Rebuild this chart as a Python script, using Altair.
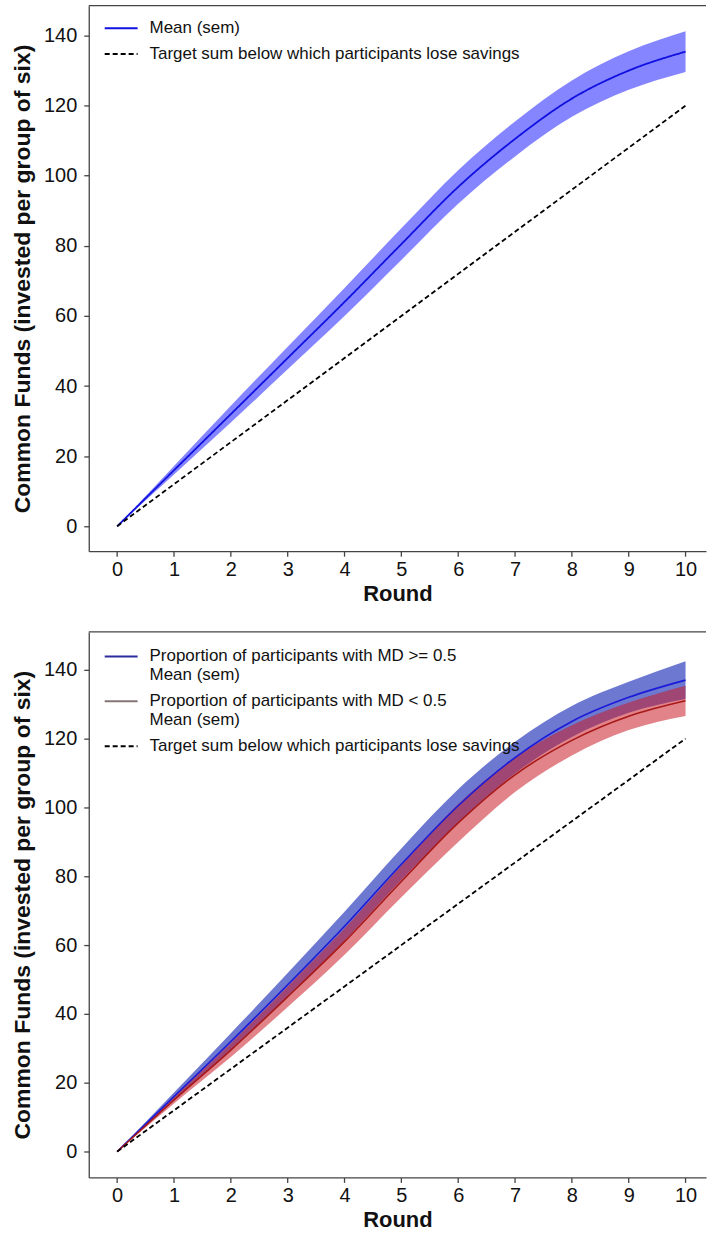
import altair as alt
import pandas as pd

# ---------------- data ----------------
rounds = [0, 1, 2, 3, 4, 5, 6, 7, 8, 9, 10]
target = [0, 12, 24, 36, 48, 60, 72, 84, 96, 108, 120]

# top panel: all participants
top_mean = [0, 16.0, 32.0, 48.0, 64.0, 80.5, 96.8, 110.5, 122.0, 130.0, 135.4]
top_sem = [0, 1.2, 2.4, 3.2, 4.0, 4.5, 4.8, 5.0, 5.2, 5.5, 5.8]

# bottom panel: MD >= 0.5 and MD < 0.5
hi_mean = [0, 16.0, 32.0, 48.5, 65.5, 83.5, 100.5, 114.5, 125.0, 132.0, 137.0]
hi_sem = [0, 1.2, 2.4, 3.4, 4.2, 4.6, 4.8, 4.6, 4.5, 4.5, 5.5]
lo_mean = [0, 15.0, 29.5, 45.0, 61.0, 78.5, 95.5, 109.5, 119.5, 126.5, 131.0]
lo_sem = [0, 1.0, 2.0, 3.0, 3.8, 4.6, 5.5, 5.0, 4.4, 4.0, 4.4]

x_ticks = [0, 1, 2, 3, 4, 5, 6, 7, 8, 9, 10]
y_ticks = [0, 20, 40, 60, 80, 100, 120, 140]

TARGET = "Target sum below which participants lose savings"
MEAN = "Mean (sem)"
HI = "Proportion of participants with MD >= 0.5\nMean (sem)"
LO = "Proportion of participants with MD < 0.5\nMean (sem)"

FONT = "Liberation Sans, Arial, Helvetica, sans-serif"
W, H = 619, 547
X_DOMAIN = [-0.5, 10.36]


def band_df(mean, sem):
    return pd.DataFrame({
        "round": rounds,
        "mean": mean,
        "lo": [m - s for m, s in zip(mean, sem)],
        "hi": [m + s for m, s in zip(mean, sem)],
    })


def x_enc():
    return alt.X(
        "round:Q",
        scale=alt.Scale(domain=X_DOMAIN, nice=False, zero=False),
        axis=alt.Axis(values=x_ticks, title="Round", format="d"),
    )


def y_enc(dom, field="mean"):
    return alt.Y(
        f"{field}:Q",
        scale=alt.Scale(domain=dom, nice=False, zero=False),
        axis=alt.Axis(values=y_ticks, title="Common Funds (invested per group of six)"),
    )


def border():
    return alt.Chart(pd.DataFrame({"a": [0]})).mark_rule(
        color="#444444", strokeWidth=1.3
    ).encode(x=alt.value(0), x2=alt.value(W), y=alt.value(0))


def legend_line_layer(field, domain, colors, dashes, lx, ly, rowpad, data_series, data_values, dom):
    rows = []
    for s, vals in zip(data_series, data_values):
        for r, v in zip(rounds, vals):
            rows.append({"round": r, "mean": v, field: s})
    df = pd.DataFrame(rows)
    leg = alt.Legend(
        title=None,
        orient="none",
        legendX=lx,
        legendY=ly,
        symbolType="stroke",
        symbolSize=1089,
        symbolStrokeWidth=2,
        labelFont=FONT,
        labelFontSize=17,
        labelColor="#111111",
        labelLimit=0,
        labelOffset=11,
        rowPadding=rowpad,
        padding=0,
        labelExpr="split(datum.label, '\\n')",
    )
    return alt.Chart(df).mark_line(strokeWidth=1.8, interpolate="monotone").encode(
        x=x_enc(),
        y=y_enc(dom),
        color=alt.Color(f"{field}:N", scale=alt.Scale(domain=domain, range=colors), legend=leg, sort=domain),
        strokeDash=alt.StrokeDash(f"{field}:N", scale=alt.Scale(domain=domain, range=dashes), legend=leg, sort=domain),
    )


# ---------------- top panel ----------------
TOP_DOM = [-7.1, 148.5]
top_df = band_df(top_mean, top_sem)
top_band = alt.Chart(top_df).mark_area(color="#2020ff", opacity=0.55, interpolate="monotone").encode(
    x=x_enc(), y=y_enc(TOP_DOM, "lo"), y2="hi:Q"
)
top_lines = legend_line_layer(
    "series1",
    [MEAN, TARGET],
    ["#1010e0", "#000000"],
    [[1, 0], [5, 3]],
    15, 5, -11,
    [MEAN, TARGET],
    [top_mean, target],
    TOP_DOM,
)
top = alt.layer(top_band, top_lines, border()).properties(width=W, height=H)

# ---------------- bottom panel ----------------
BOT_DOM = [-7.5, 151]
hi_df = band_df(hi_mean, hi_sem)
lo_df = band_df(lo_mean, lo_sem)
hi_band = alt.Chart(hi_df).mark_area(color="#1f2fb8", opacity=0.65, interpolate="monotone").encode(
    x=x_enc(), y=y_enc(BOT_DOM, "lo"), y2="hi:Q"
)
lo_band = alt.Chart(lo_df).mark_area(color="#c81e28", opacity=0.55, interpolate="monotone").encode(
    x=x_enc(), y=y_enc(BOT_DOM, "lo"), y2="hi:Q"
)
hi_line = alt.Chart(hi_df).mark_line(color="#1a1ad8", strokeWidth=1.6, interpolate="monotone").encode(
    x=x_enc(), y=y_enc(BOT_DOM)
)
lo_line = alt.Chart(lo_df).mark_line(color="#a81818", strokeWidth=1.6, interpolate="monotone").encode(
    x=x_enc(), y=y_enc(BOT_DOM)
)
bot_target = legend_line_layer(
    "series2",
    [HI, LO, TARGET],
    ["#2c2c9c", "#857575", "#000000"],
    [[1, 0], [1, 0], [5, 3]],
    15, 7, -1,
    [TARGET],
    [target],
    BOT_DOM,
)
bottom = alt.layer(hi_band, lo_band, hi_line, lo_line, bot_target, border()).properties(width=W, height=H)

chart = (
    alt.vconcat(top, bottom, spacing=27)
    .resolve_scale(color="independent", strokeDash="independent", x="independent", y="independent")
    .resolve_legend(color="independent", strokeDash="independent")
    .properties(padding={"left": 11, "top": 3, "right": 0, "bottom": 0}, background="white")
    .configure_view(stroke=None)
    .configure_axis(
        grid=False,
        domainColor="#444444",
        domainWidth=1.3,
        tickColor="#444444",
        tickWidth=1.3,
        tickSize=5,
        labelFont=FONT,
        labelFontSize=20,
        labelColor="#111111",
        titleFont=FONT,
        titleFontWeight="bold",
        titleColor="#111111",
    )
    .configure_axisX(labelPadding=3, titleFontSize=22, titlePadding=4, labelFlush=False)
    .configure_axisY(labelPadding=7, titleFontSize=23, titlePadding=9)
)

chart.save("out.html", embed_options={"renderer": "svg", "actions": False})
